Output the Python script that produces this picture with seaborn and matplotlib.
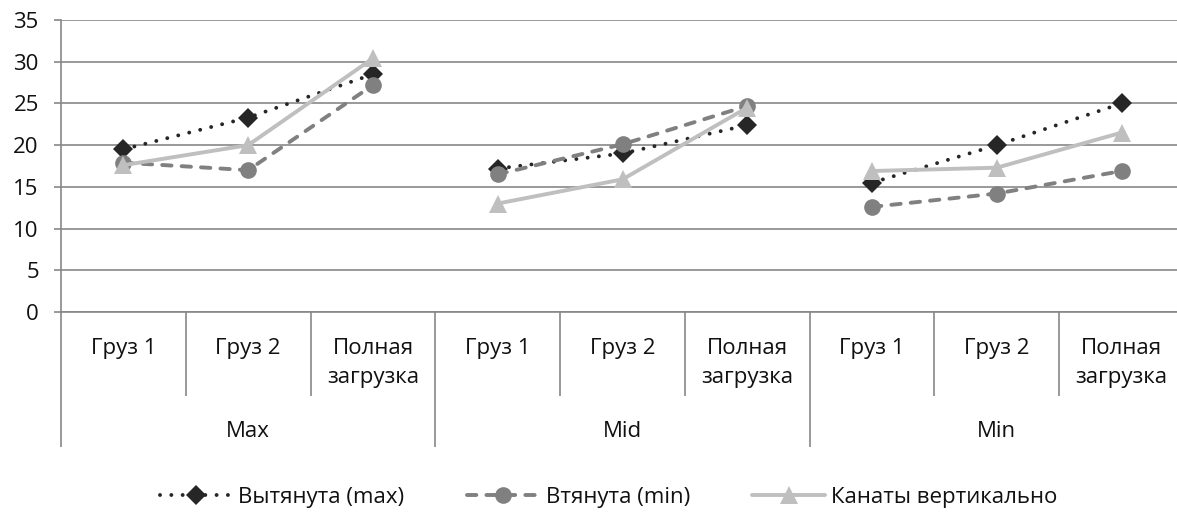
import pandas as pd
import matplotlib.pyplot as plt
import seaborn as sns

# categories
groups = ["Max", "Mid", "Min"]
loads = ["Груз 1", "Груз 2", "Полная\nзагрузка"]
series = ["Вытянута (max)", "Втянута (min)", "Канаты вертикально"]

# values per group: Груз 1, Груз 2, Полная загрузка
stretched = [19.5, 23.3, 28.5, 17.2, 19.0, 22.4, 15.5, 20.0, 25.0]
retracted = [17.9, 17.0, 27.2, 16.5, 20.1, 24.7, 12.6, 14.2, 16.9]
vertical = [17.6, 20.0, 30.4, 13.0, 15.9, 24.5, 16.9, 17.3, 21.5]

colors = {series[0]: "#262626", series[1]: "#808080", series[2]: "#bfbfbf"}
markers = {series[0]: "D", series[1]: "o", series[2]: "^"}
dashes = {series[0]: (0.01, 2.9), series[1]: (2.4, 2.6), series[2]: ""}
msizes = {"#262626": 10, "#808080": 12, "#bfbfbf": 13}

sns.set_theme(style="white")
plt.rcParams['font.family'] = ['Open Sans', 'DejaVu Sans']
TEXT = "#111111"
GRID = "#878787"
FS = 16


def build_frame():
    rows = []
    for name, vals in zip(series, [stretched, retracted, vertical]):
        for i, v in enumerate(vals):
            rows.append({"pos": i, "value": v, "series": name,
                         "group": groups[i // 3]})
    return pd.DataFrame(rows)


def style_line(ln):
    """Round dash caps and per-series marker size."""
    ln.set_dash_capstyle("round")
    c = ln.get_color()
    c = c if isinstance(c, str) else "#%02x%02x%02x" % tuple(
        int(round(v * 255)) for v in c[:3])
    if c.lower() in msizes:
        ln.set_markersize(msizes[c.lower()])


def main():
    df = build_frame()
    fig = plt.figure(figsize=(11.77, 5.13), dpi=100)
    ax = fig.add_axes([61 / 1177, 201 / 513, 1123 / 1177, 292 / 513])

    sns.lineplot(data=df, x="pos", y="value", hue="series", style="series",
                 units="group", estimator=None, palette=colors,
                 markers=markers, dashes=dashes, linewidth=2.8,
                 markersize=11, markeredgewidth=0, ax=ax, sort=False)
    for ln in ax.lines:
        style_line(ln)

    # y axis
    ax.set_ylim(0, 35)
    ax.set_yticks(range(0, 36, 5))
    ax.yaxis.grid(True, color=GRID, linewidth=1.2)
    ax.set_axisbelow(True)
    ax.tick_params(axis="y", length=5, width=1.2, color=GRID, pad=11,
                   labelsize=FS, labelcolor=TEXT, left=True)

    # x axis: two-level categories
    ax.set_xlim(-0.5, 8.5)
    ax.set_xticks(range(9), loads * 3)
    ax.tick_params(axis="x", length=0, pad=19, labelsize=FS,
                   labelcolor=TEXT)
    for lab in ax.get_xticklabels():
        lab.set_linespacing(1.5)
    ax.set_xlabel("")
    ax.set_ylabel("")
    trans = ax.get_xaxis_transform()
    inner = [0.5, 1.5, 3.5, 4.5, 6.5, 7.5]
    outer = [-0.5, 2.5, 5.5, 8.5]
    ax.vlines(inner, -0.288, 0, transform=trans, colors=GRID,
              linewidth=1.2, clip_on=False)
    ax.vlines(outer, -0.463, 0, transform=trans, colors=GRID,
              linewidth=1.2, clip_on=False)
    for k, g in enumerate(groups):
        ax.text(3 * k + 1, -0.41, g, transform=trans, ha="center",
                va="center", fontsize=FS, color=TEXT)

    for side in ["top", "right"]:
        ax.spines[side].set_visible(False)
    for side in ["left", "bottom"]:
        ax.spines[side].set_color(GRID)
        ax.spines[side].set_linewidth(1.2)

    # legend
    handles, labels = ax.get_legend_handles_labels()
    for h in handles:
        style_line(h)
    ax.legend(handles, labels, loc="center", bbox_to_anchor=(0.4875, -0.634),
              ncol=3, frameon=False, fontsize=FS, handlelength=3.3,
              columnspacing=2.8, handletextpad=0.25, labelcolor=TEXT)

    fig.savefig("out.png", dpi=100)


if __name__ == '__main__':
    main()
